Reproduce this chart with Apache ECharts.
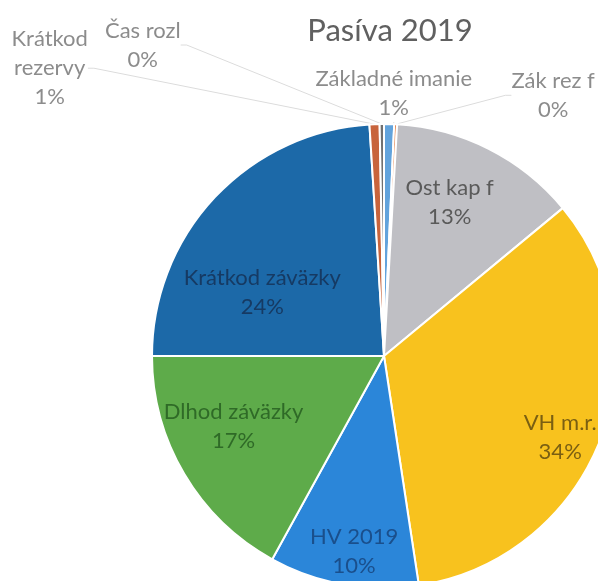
<!DOCTYPE html>
<html>
<head>
<meta charset="utf-8">
<script src="https://cdn.jsdelivr.net/npm/echarts@6/dist/echarts.min.js"></script>
<style>
html,body{margin:0;padding:0;background:#fff;}
#c{width:598px;height:581px;}
</style>
</head>
<body>
<div id="c"></div>
<script>
// ---- data ----
var categories = ['Základné imanie', 'Zák rez f', 'Ost kap f', 'VH m.r.', 'HV 2019', 'Dlhod záväzky', 'Krátkod záväzky', 'Krátkod rezervy', 'Čas rozl'];
var values = [0.7, 0.2, 13.1, 33.6, 10.4, 17.0, 24.0, 0.7, 0.3];
var labelNames = ['Základné imanie', 'Zák rez f', 'Ost kap f', 'VH m.r.', 'HV 2019', 'Dlhod záväzky', 'Krátkod záväzky', 'Krátkod\nrezervy', 'Čas rozl'];

// ---- styles ----
var colors = ['#62a3dc', '#e0814a', '#bfbfc4', '#f8c21e', '#2b86d9', '#5eab4a', '#1c69a8', '#c8643c', '#707070'];
var insideSet = {'Ost kap f':1, 'VH m.r.':1, 'HV 2019':1, 'Dlhod záväzky':1, 'Krátkod záväzky':1};
var labelColors = {
  'Ost kap f': '#5a5a5a', 'VH m.r.': '#7a5f12', 'HV 2019': '#1a4f8c',
  'Dlhod záväzky': '#2f6a27', 'Krátkod záväzky': '#163a63'
};
var labelShift = {
  'Ost kap f': [12, -47], 'VH m.r.': [65, 39], 'HV 2019': [-9, 78],
  'Dlhod záväzky': [-48, 10], 'Krátkod záväzky': [-35, 18],
  'Základné imanie': [-85, -16], 'Zák rez f': [104, -14],
  'Krátkod rezervy': [-275, -41], 'Čas rozl': [-190, -64]
};
var FONT = 'Lato, "Open Sans", sans-serif';

var chart = echarts.init(document.getElementById('c'), null, {renderer: 'canvas'});

var seriesData = categories.map(function (name, i) {
  var inside = !!insideSet[name];
  return {
    name: name,
    value: values[i],
    itemStyle: {color: colors[i]},
    label: {
      position: inside ? 'inside' : 'outside',
      color: inside ? labelColors[name] : '#8c8c8c'
    },
    labelLine: {show: !inside}
  };
});

chart.setOption({
  animation: false,
  title: {
    text: 'Pasíva 2019',
    left: 385,
    textAlign: 'center',
    top: 10,
    textStyle: {fontFamily: FONT, fontSize: 31, fontWeight: 'normal', color: '#606060'}
  },
  series: [{
    type: 'pie',
    center: [384, 356],
    radius: [0, 232],
    startAngle: 90,
    clockwise: true,
    avoidLabelOverlap: false,
    itemStyle: {borderColor: '#ffffff', borderWidth: 2},
    label: {
      show: true,
      fontFamily: FONT,
      fontSize: 22,
      lineHeight: 29,
      align: 'center',
      formatter: function (p) {
        return labelNames[p.dataIndex] + '\n' + Math.round(p.percent) + '%';
      }
    },
    labelLine: {show: true, length: 15, length2: 6, lineStyle: {color: '#dcdcdc', width: 1}},
    labelLayout: function (p) {
      var s = labelShift[categories[p.dataIndex]] || [0, 0];
      var r = p.labelRect;
      return {
        x: r.x + r.width / 2 + s[0],
        y: r.y + r.height / 2 + s[1],
        align: 'center',
        verticalAlign: 'middle'
      };
    },
    data: seriesData
  }]
});
</script>
</body>
</html>
